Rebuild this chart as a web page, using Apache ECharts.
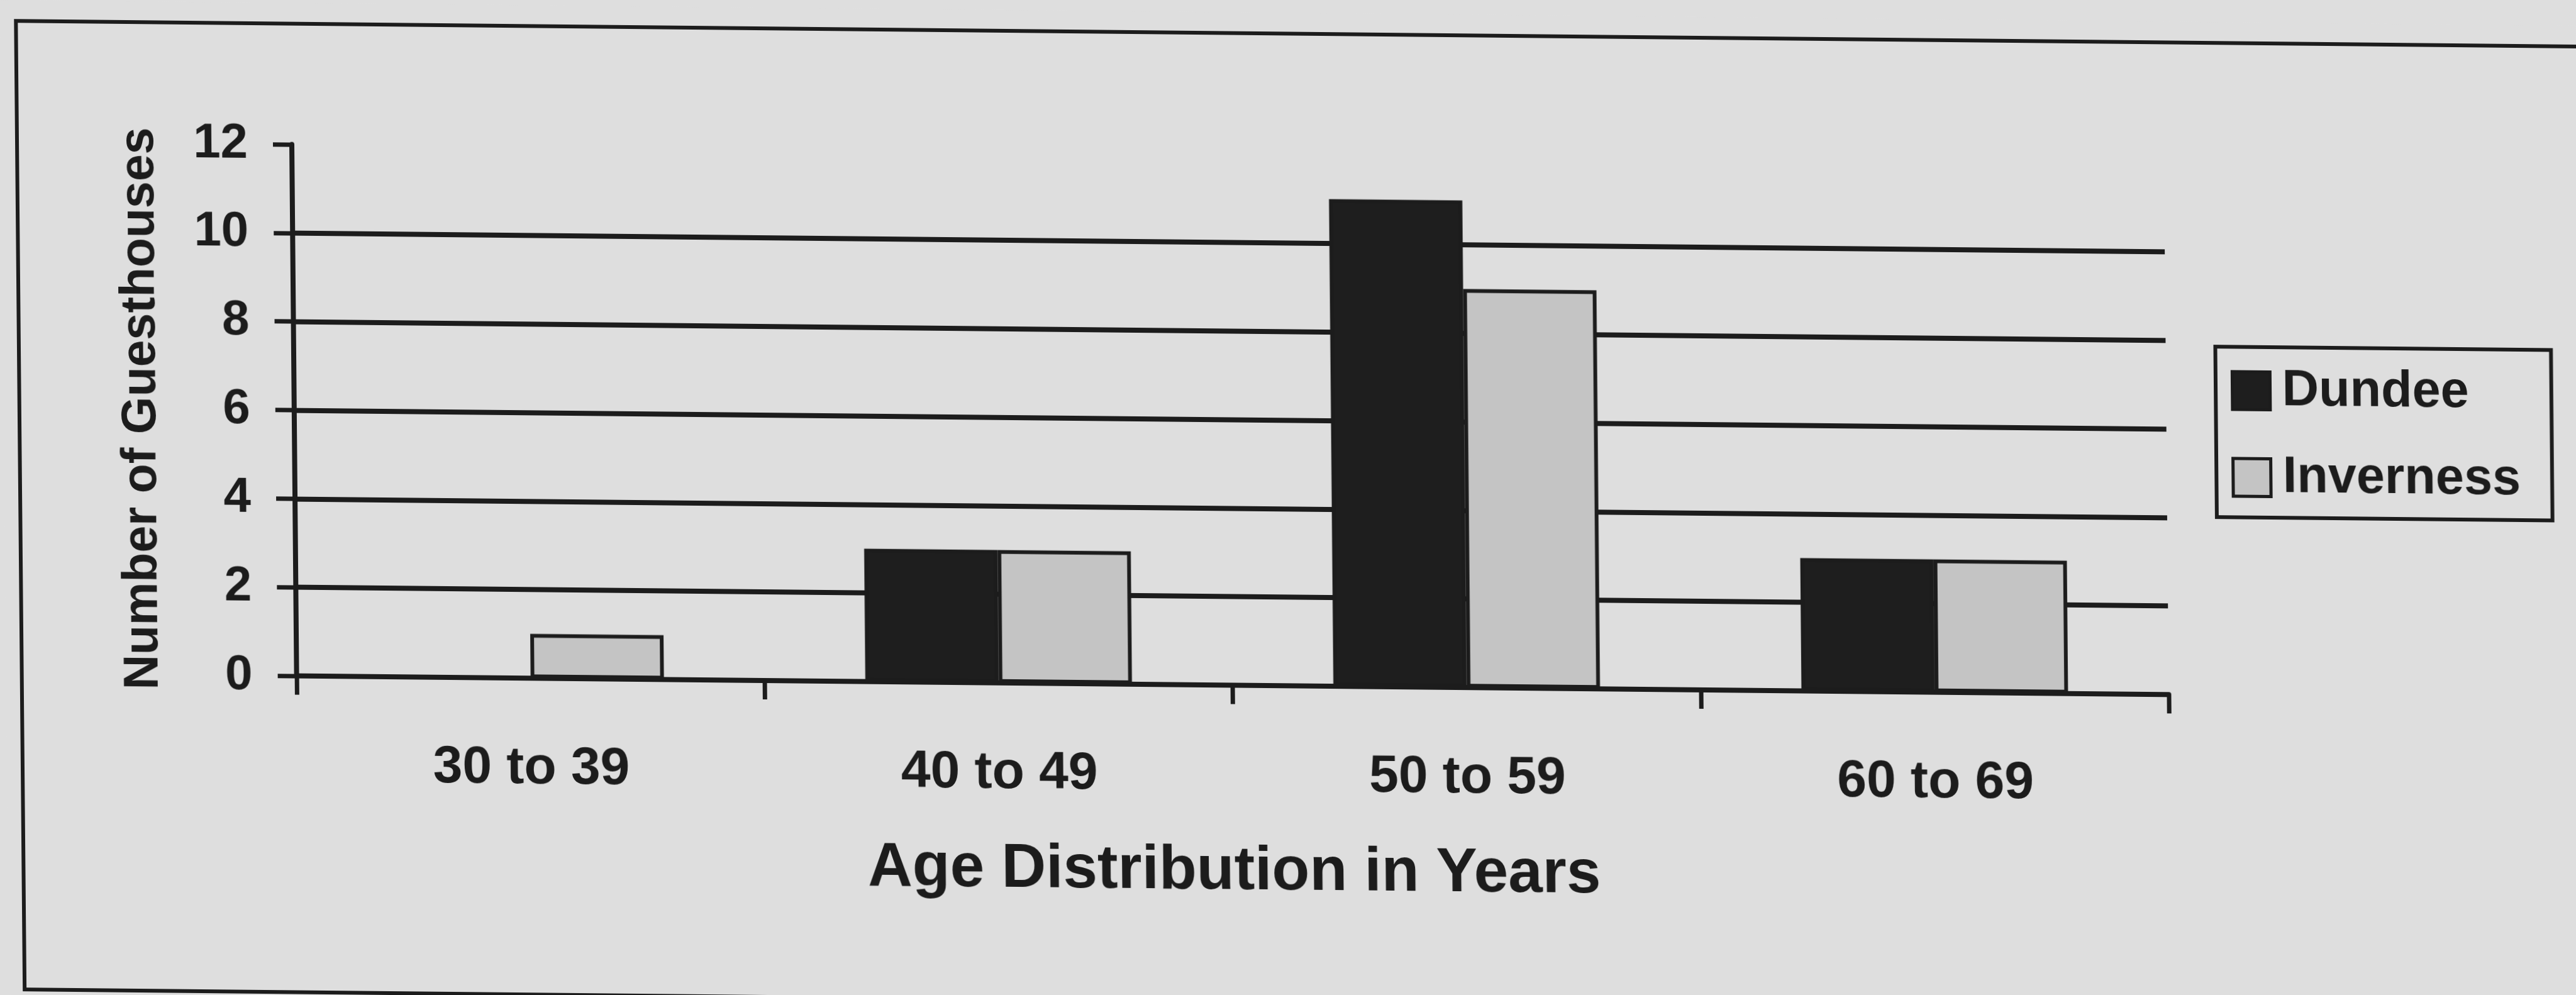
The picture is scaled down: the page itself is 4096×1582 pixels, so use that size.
<!DOCTYPE html>
<html>
<head>
<meta charset="utf-8">
<title>Age Distribution of Guesthouse Owners</title>
<script src="https://cdn.jsdelivr.net/npm/echarts@6/dist/echarts.min.js"></script>
<style>
  html, body { margin: 0; padding: 0; background: #dedede; overflow: hidden; }
  /* the printed page sits slightly askew on the scanner bed */
  #chart {
    width: 4096px; height: 1582px;
    transform: matrix(1, 0.01, 0.009, 1, 0, 0);
    transform-origin: 0 0;
  }
</style>
</head>
<body>
<div id="chart"></div>
<script>
// Age bands of guesthouse operators
const categories = ['30 to 39', '40 to 49', '50 to 59', '60 to 69'];
// Number of guesthouses per age band
const dundee = [0, 3, 11, 3];
const inverness = [1, 3, 9, 3];
// Value axis range
const yMin = 0;
const yMax = 12;
const yStep = 2;

const ink = '#1c1c1c';
const font = '"Liberation Sans", Arial, Helvetica, sans-serif';

const chart = echarts.init(document.getElementById('chart'), null, { renderer: 'canvas' });

chart.setOption({
  backgroundColor: '#dedede',
  animation: false,
  textStyle: { fontFamily: font, color: ink },
  graphic: [{
    type: 'rect',
    shape: { x: 25, y: 33, width: 4200, height: 1540 },
    style: { fill: 'none', stroke: ink, lineWidth: 6 },
    silent: true
  }],
  grid: { left: 462, right: 657, top: 225, bottom: 512, containLabel: false },
  legend: {
    orient: 'vertical',
    left: 3518,
    top: 516,
    padding: [29, 50, 23, 24],
    itemWidth: 60,
    itemHeight: 60,
    itemGap: 57,
    icon: 'rect',
    borderColor: ink,
    borderWidth: 6,
    textStyle: {
      fontFamily: font, fontSize: 81, fontWeight: 'bold', color: ink,
      padding: [0, 0, 0, 14]
    },
    data: [
      { name: 'Dundee', itemStyle: { color: '#1e1e1e', borderColor: ink, borderWidth: 5 } },
      { name: 'Inverness', itemStyle: { color: '#c4c4c4', borderColor: ink, borderWidth: 5 } }
    ]
  },
  xAxis: {
    type: 'category',
    data: categories,
    name: 'Age Distribution in Years',
    nameLocation: 'middle',
    nameGap: 248,
    nameTextStyle: { fontFamily: font, fontSize: 98, fontWeight: 'bold', color: ink },
    axisLine: { show: true, lineStyle: { color: ink, width: 8 } },
    axisTick: { show: true, length: 30, interval: 0, lineStyle: { color: ink, width: 7 } },
    axisLabel: { margin: 102, fontFamily: font, fontSize: 84, fontWeight: 'bold', color: ink, interval: 0 },
    splitLine: { show: false }
  },
  yAxis: {
    type: 'value',
    min: yMin,
    max: yMax,
    interval: yStep,
    name: 'Number of Guesthouses',
    nameLocation: 'middle',
    nameGap: 204,
    nameTextStyle: { fontFamily: font, fontSize: 77, fontWeight: 'bold', color: ink },
    axisLine: { show: true, lineStyle: { color: ink, width: 8 } },
    axisTick: { show: true, length: 30, lineStyle: { color: ink, width: 7 } },
    axisLabel: { margin: 70, fontFamily: font, fontSize: 78, fontWeight: 'bold', color: ink },
    splitLine: {
      show: true, showMinLine: false, showMaxLine: false,
      lineStyle: { color: ink, width: 8 }
    }
  },
  series: [
    {
      name: 'Dundee',
      type: 'bar',
      data: dundee,
      barWidth: 212,
      barGap: '0%',
      itemStyle: { color: '#1e1e1e', borderColor: ink, borderWidth: 6 }
    },
    {
      name: 'Inverness',
      type: 'bar',
      data: inverness,
      barWidth: 212,
      barGap: '0%',
      itemStyle: { color: '#c4c4c4', borderColor: ink, borderWidth: 6 }
    }
  ]
});
</script>
</body>
</html>
